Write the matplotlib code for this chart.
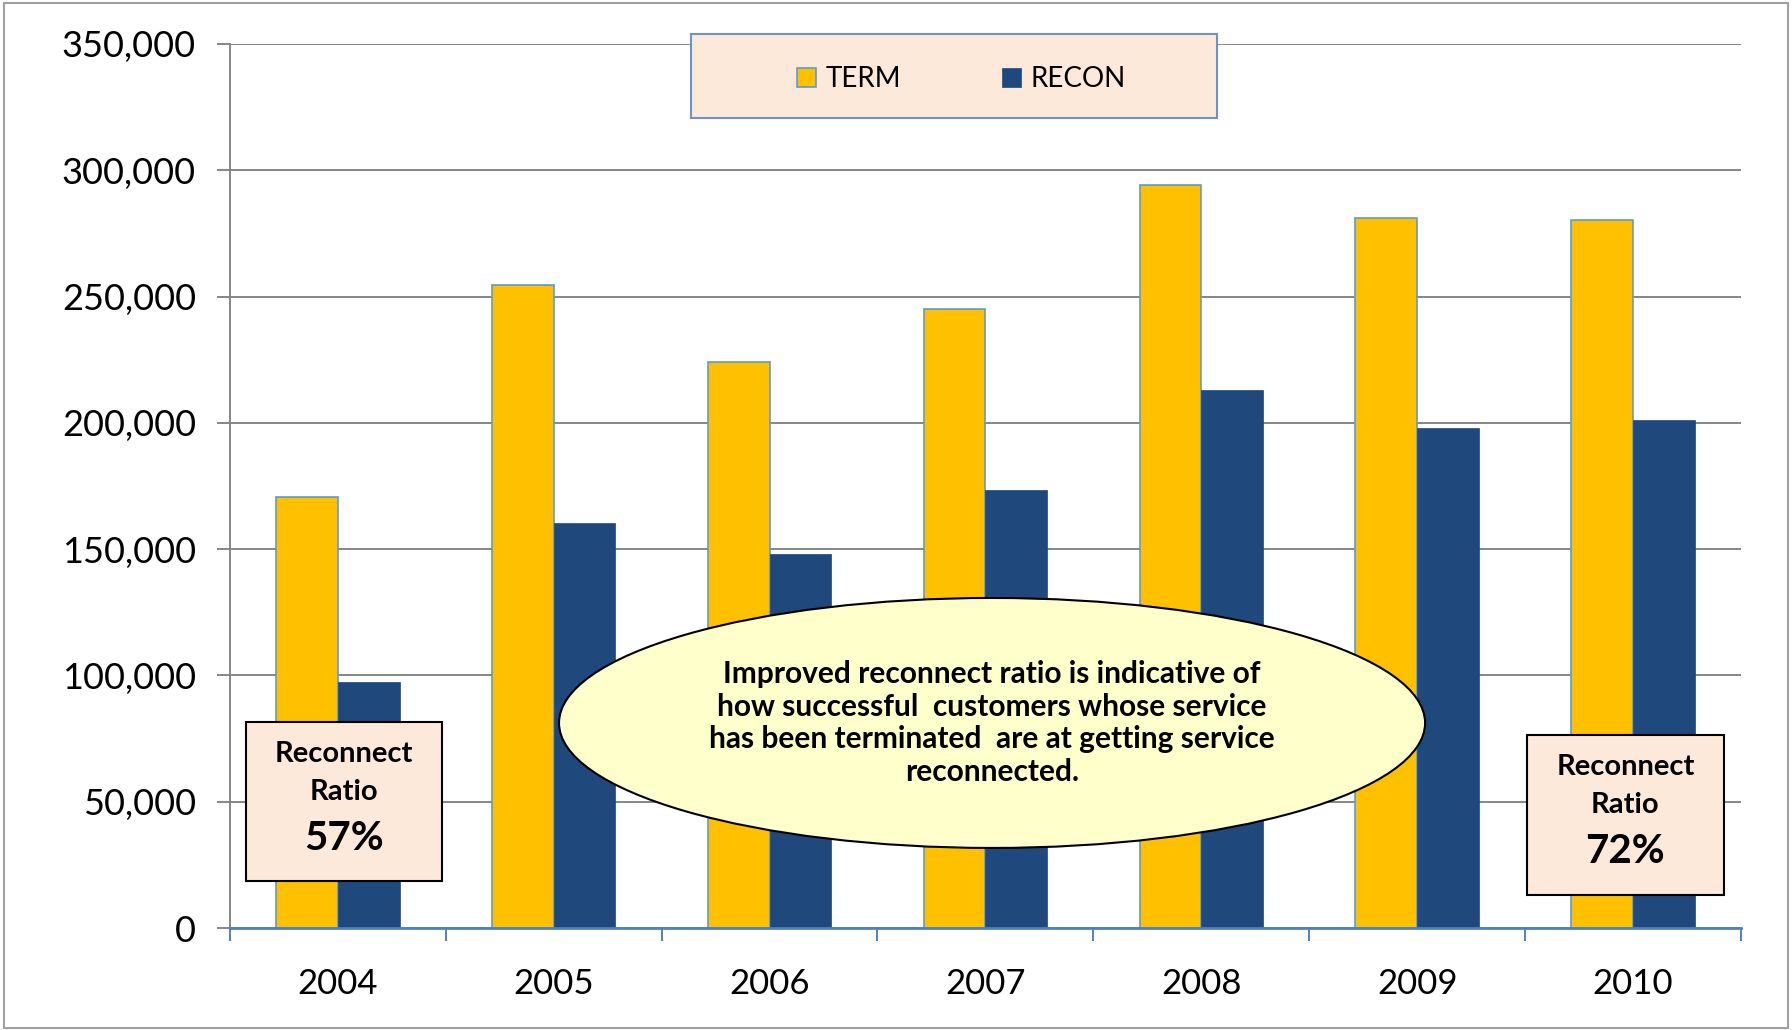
import matplotlib
matplotlib.use("Agg")
import matplotlib.pyplot as plt
import numpy as np
from matplotlib.patches import Ellipse, Rectangle
from matplotlib.ticker import FuncFormatter

plt.rcParams['font.family'] = ['Lato', 'DejaVu Sans']

# Datos
years = ["2004", "2005", "2006", "2007", "2008", "2009", "2010"]
term = [170500, 254500, 224000, 245000, 294000, 281000, 280500]
recon = [97500, 160500, 148000, 173500, 213000, 198000, 201000]
ratio_first = "57%"
ratio_last = "72%"
note = ("Improved reconnect ratio is indicative of\n"
        "how successful  customers whose service\n"
        "has been terminated  are at getting service\n"
        "reconnected.")

term_color = "#FFC000"
recon_color = "#1F497D"
box_fill = "#FDE9D9"

fig = plt.figure(figsize=(17.92, 10.30), dpi=100)
ax = fig.add_axes([0.1283, 0.0990, 0.9715 - 0.1283, 0.9573 - 0.0990])

x = np.arange(len(years))
w = 0.286
ax.bar(x - w / 2, term, width=w, color=term_color, edgecolor="#5B9BD5",
       linewidth=1.2, label="TERM", zorder=3)
ax.bar(x + w / 2, recon, width=w, color=recon_color, edgecolor=recon_color,
       linewidth=0.5, label="RECON", zorder=3)

ax.set_xlim(-0.5, len(years) - 0.5)
ax.set_ylim(0, 350000)
ax.set_yticks(np.arange(0, 350001, 50000))
ax.yaxis.set_major_formatter(FuncFormatter(lambda v, p: f"{int(v):,}"))
ax.set_xticks(x)
ax.set_xticklabels(years)
ax.set_xticks(np.arange(-0.5, len(years), 1), minor=True)

ax.grid(axis="y", color="#868686", linewidth=1.4, zorder=0)
for s in ["top", "right"]:
    ax.spines[s].set_visible(False)
ax.spines["left"].set_color("#868686")
ax.spines["left"].set_linewidth(1.4)
ax.spines["bottom"].set_color("#4F81BD")
ax.spines["bottom"].set_linewidth(2)
ax.spines["bottom"].set_zorder(4)

ax.tick_params(axis="y", length=9.5, width=1.4, color="#868686", pad=15,
               labelsize=26)
ax.tick_params(axis="x", which="major", length=0, pad=29, labelsize=25)
ax.tick_params(axis="x", which="minor", length=9.5, width=1.4,
               color="#4F81BD", direction="out")

# Leyenda
fig.patches.append(Rectangle((0.3856, 0.8854), 0.2935, 0.0816,
                             transform=fig.transFigure, facecolor=box_fill,
                             edgecolor="#6D93C8", linewidth=1.5, zorder=5))
leg = fig.legend(loc="center", bbox_to_anchor=(0.5365, 0.9232), ncol=2,
                 frameon=False, fontsize=20, handlelength=0.7,
                 handleheight=0.7, handletextpad=0.35, columnspacing=3.6)
leg.set_zorder(6)

# Cuadros de ratio
for (bx, by, bw, bh), pct in [((0.1373, 0.1447, 0.1094, 0.1544), ratio_first),
                              ((0.8521, 0.1311, 0.1099, 0.1553), ratio_last)]:
    fig.patches.append(Rectangle((bx, by), bw, bh, transform=fig.transFigure,
                                 facecolor=box_fill, edgecolor="black",
                                 linewidth=1.5, zorder=5))
    cx = bx + bw / 2
    fig.text(cx, by + bh * 0.80, "Reconnect", ha="center", va="center",
             fontsize=21, fontweight="bold", zorder=6)
    fig.text(cx, by + bh * 0.56, "Ratio", ha="center", va="center",
             fontsize=21, fontweight="bold", zorder=6)
    fig.text(cx, by + bh * 0.27, pct, ha="center", va="center",
             fontsize=29, fontweight="bold", zorder=6)

# Elipse con nota
fig.patches.append(Ellipse((0.5536, 0.2981), 0.4833, 0.2427,
                           transform=fig.transFigure, facecolor="#FFFFCC",
                           edgecolor="black", linewidth=1.5, zorder=5))
fig.text(0.5536, 0.2981, note, ha="center", va="center", fontsize=21.5,
         fontweight="bold", linespacing=1.2, zorder=6)

# Borde de la figura
fig.patches.append(Rectangle((0.002, 0.002), 0.996, 0.995,
                             transform=fig.transFigure, fill=False,
                             edgecolor="#A0A0A0", linewidth=1.5, zorder=0))

fig.savefig("out.png", dpi=100)
